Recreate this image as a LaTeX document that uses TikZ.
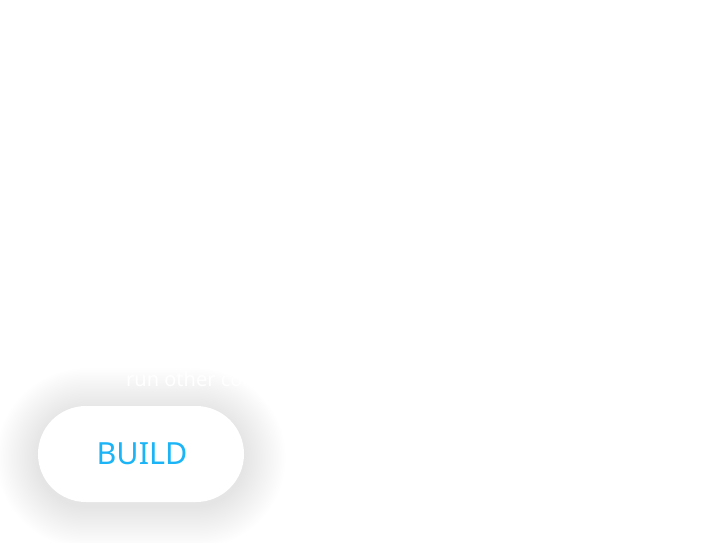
\documentclass[tikz,border=0pt]{standalone}
\usepackage{fontspec}
\setmainfont{Noto Sans}
\definecolor{buildblue}{HTML}{1AB4F7}
\begin{document}
\begin{tikzpicture}[x=1pt,y=-1pt,
  pill/.style={fill=white, rounded corners=48pt},
  shadowlayer/.style={fill=black, opacity=0.0023},
  hint/.style={text=white, font=\fontsize{20}{22}\selectfont, anchor=base west, inner sep=0pt},
  btntext/.style={text=buildblue, font=\fontsize{30.5}{33}\selectfont, inner sep=0pt}]
\useasboundingbox (0,0) rectangle (718,542);
\fill[white] (0,0) rectangle (718,542);
% soft shadow
\foreach \r in {1,2,...,26}{
  \fill[shadowlayer, rounded corners={48pt+\r*1.6pt}]
    ({38-\r*1.6},{406+4-\r*1.6}) rectangle ({244+\r*1.6},{502+4+\r*1.6});
}
\node[hint] (hint) at (126,386.5) {run other com};
\fill[pill] (38,406) rectangle (244,502);
\node[btntext] (build) at (142,454) {BUILD};
\end{tikzpicture}
\end{document}
